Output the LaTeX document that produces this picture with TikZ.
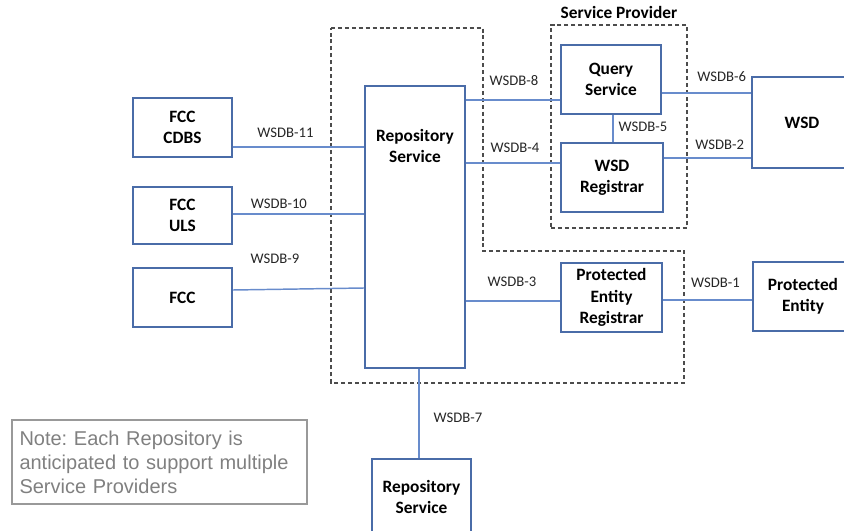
\documentclass[tikz,border=0pt]{standalone}
\usepackage{fontspec}
\setmainfont{Carlito}
\newfontfamily\notefont{Liberation Sans}
\usetikzlibrary{calc}
\frenchspacing

\definecolor{boxblue}{RGB}{74,108,168}
\definecolor{lineblue}{RGB}{104,140,204}
\definecolor{notegray}{RGB}{128,128,128}

\tikzset{every picture/.style={line width=0.75pt}}
\tikzset{
  box/.style={draw=boxblue, line width=1.5pt, fill=white, align=center, inner sep=2pt,
    font=\bfseries\fontsize{13}{16}\selectfont},
  boxtxt/.style={align=center, inner sep=0pt, font=\bfseries\fontsize{13}{16}\selectfont},
  link/.style={draw=lineblue, line width=1.1pt},
  lbl/.style={anchor=south, font=\fontsize{11}{13}\selectfont, text=black!85},
  grp/.style={draw=black!70, dash pattern=on 3pt off 2.2pt, line width=0.9pt},
}

\begin{document}
\begin{tikzpicture}[x=0.75pt,y=0.75pt,yscale=-1,xscale=1]
\useasboundingbox (0,0) rectangle (844,531);

%Dashed groups
\draw[grp] (331,28) -- (483,28) -- (483,251) -- (684,251) -- (684,383) -- (331,383) -- cycle;
\node[grp, minimum width=102pt, minimum height=152.25pt,
  label={[boxtxt, inner sep=4.3pt]above:Service Provider}] (sp) at (619,126.5) {};

%Boxes
\node[box, minimum width=75pt, minimum height=211.5pt] (repo) at (415,227) {};
\node[boxtxt] (repotxt) at (415,146) {Repository\\Service};
\node[box, minimum width=75pt, minimum height=51.75pt] (query) at (611,79.5) {Query\\Service};
\node[box, minimum width=76.5pt, minimum height=51.75pt] (wsdreg) at (612,177.5) {WSD\\Registrar};
\node[box, minimum width=75.75pt, minimum height=51.75pt] (pereg) at (611.5,297.5) {Protected\\Entity\\Registrar};
\node[box, minimum width=75pt, minimum height=68.25pt] (wsd) at (802,122.5) {WSD};
\node[box, minimum width=75pt, minimum height=51.75pt] (prot) at (803,296.5) {Protected\\Entity};
\node[box, minimum width=74.25pt, minimum height=44.25pt] (cdbs) at (182.5,127.5) {FCC\\CDBS};
\node[box, minimum width=74.25pt, minimum height=42.75pt] (uls) at (182.5,215.5) {FCC\\ULS};
\node[box, minimum width=74.25pt, minimum height=44.25pt] (fcc) at (182.5,297.5) {FCC};
\node[box, minimum width=74.25pt, minimum height=57pt] (repo2) at (421.5,497) {Repository\\Service};

%Note
\node[draw=notegray!80, line width=1pt, text=notegray, align=left, text width=210pt,
  inner xsep=5.6pt, minimum height=63pt, font=\notefont\fontsize{15}{18}\selectfont]
  (note) at (159.5,462) {Note: Each Repository is\\anticipated to support multiple\\Service Providers};

%Links
\draw[link] ($(repo.east |- query.west)+(0,20.5)$) -- ($(query.west)+(0,20.5)$)
  node[lbl, pos=0.51, inner sep=9.9pt] {WSDB-8};
\draw[link] ($(repo.east |- wsdreg.west)+(0,-14.5)$) -- ($(wsdreg.west)+(0,-14.5)$)
  node[lbl, pos=0.52, inner sep=6.9pt] {WSDB-4};
\draw[link] ($(query.south)+(2,0)$) coordinate (w5) -- (w5 |- wsdreg.north)
  node[lbl, pos=0.45, anchor=west, inner sep=3.75pt] {WSDB-5};
\draw[link] ($(query.east)+(0,13.5)$) coordinate (w6) -- (w6 -| wsd.west)
  node[lbl, pos=0.67, inner sep=7.65pt] {WSDB-6};
\draw[link] ($(wsdreg.east)+(0,-19.5)$) coordinate (w2) -- (w2 -| wsd.west)
  node[lbl, pos=0.64, inner sep=5.4pt] {WSDB-2};
\draw[link] ($(repo.east |- pereg.west)+(0,3.5)$) -- ($(pereg.west)+(0,3.5)$)
  node[lbl, pos=0.49, inner sep=9.9pt] {WSDB-3};
\draw[link] ($(pereg.east)+(0,2.5)$) coordinate (w1) -- (w1 -| prot.west)
  node[lbl, pos=0.59, inner sep=8.4pt] {WSDB-1};
\draw[link] ($(cdbs.east)+(0,19.5)$) coordinate (w11) -- (w11 -| repo.west)
  node[lbl, pos=0.40, inner sep=6.15pt] {WSDB-11};
\draw[link] ($(uls.east)+(0,-1.5)$) coordinate (w10) -- (w10 -| repo.west)
  node[lbl, pos=0.35, inner sep=3.15pt] {WSDB-10};
\draw[link] ($(fcc.east)+(0,-7.5)$) coordinate (w9) -- ($(w9 -| repo.west)+(0,-2)$)
  node[lbl, pos=0.32, inner sep=18.9pt] {WSDB-9};
\draw[link] ($(repo2.north)+(-2.5,0)$) coordinate (w7) -- (w7 |- repo.south)
  node[lbl, pos=0.45, anchor=west, inner sep=10.5pt] {WSDB-7};

\end{tikzpicture}
\end{document}
